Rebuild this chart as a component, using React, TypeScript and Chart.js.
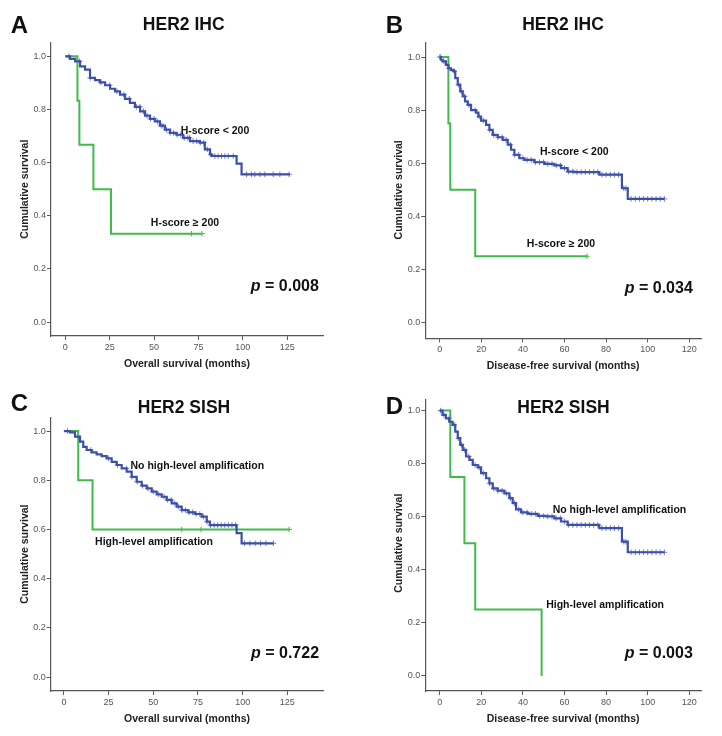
import React, { useEffect, useRef } from "react";
import { Chart, registerables } from "chart.js";
Chart.register(...registerables);

const FONT = '"Liberation Sans", Arial, Helvetica, sans-serif';
const BLUE = "#3e4fa8";
const BLUE_MARK = "#6b7fcf";
const GREEN = "#40bb4a";
const AXIS = "#555555";

// ---- tick labels ----
const osTicks = [0, 25, 50, 75, 100, 125];
const dfsTicks = [0, 20, 40, 60, 80, 100, 120];
const survTicks = [0, 0.2, 0.4, 0.6, 0.8, 1.0];

// ---- Panel A: HER2 IHC, overall survival ----
const aLowT = [0, 2.6, 5.5, 8.3, 11.1, 13.9, 16.7, 19.5, 22.4, 25.2, 28, 30.8, 33.6, 36.4, 39.2, 42.1, 44.9, 47.7, 50.5, 53.3, 56.1, 59, 62.7, 66.4, 70.2, 75.8, 78.6, 81.5, 82.4, 96.5, 99.3, 126.5];
const aLowS = [1, 0.99, 0.981, 0.962, 0.95, 0.919, 0.91, 0.902, 0.891, 0.878, 0.868, 0.856, 0.84, 0.825, 0.81, 0.793, 0.777, 0.765, 0.755, 0.739, 0.724, 0.712, 0.705, 0.693, 0.681, 0.675, 0.65, 0.631, 0.625, 0.596, 0.556, 0.556];
const aLowCensor = [2, 8, 14, 20, 25, 29, 33, 36, 40, 42, 44, 46, 48, 50, 52, 54, 55, 57, 59, 61, 63, 65, 67, 69, 70, 72, 74, 76, 78, 80, 82, 84.3, 86.1, 88, 89.9, 91.8, 94.6, 102.1, 104.9, 106.8, 109.6, 112.4, 117.1, 120.9, 126.1];
const aHighT = [0, 6.8, 7.9, 15.8, 25.7, 77];
const aHighS = [1, 0.833, 0.667, 0.5, 0.333, 0.333];
const aHighCensor = [71, 77];

// ---- Panel B: HER2 IHC, disease-free survival ----
const bLowT = [0, 0.6, 1.4, 3, 4.2, 5.4, 6.7, 7.5, 8.7, 9.9, 11.1, 12.2, 13.5, 15.1, 17.5, 18.6, 19.9, 22.3, 23.9, 25.5, 27.9, 30.3, 32.7, 34.3, 35.9, 38.3, 40.7, 45.5, 50.3, 55.1, 58.3, 61.5, 64.7, 76.7, 87.6, 90.4, 108];
const bLowS = [1, 0.99, 0.984, 0.971, 0.958, 0.952, 0.946, 0.921, 0.896, 0.871, 0.852, 0.833, 0.82, 0.8, 0.791, 0.776, 0.761, 0.745, 0.726, 0.707, 0.698, 0.688, 0.67, 0.651, 0.632, 0.619, 0.613, 0.604, 0.598, 0.592, 0.582, 0.569, 0.567, 0.557, 0.506, 0.466, 0.466];
const bLowCensor = [0.5, 2, 4.5, 7, 9, 10.5, 12, 14, 17, 19, 21, 24, 26, 28, 30, 32, 34, 36, 38, 40, 42, 44, 46, 48, 50, 52, 54, 56, 58, 60, 62, 64, 66, 68, 70, 72, 74, 76, 78, 80, 82, 84, 86, 88.5, 89.5, 92, 94, 96, 98, 100, 102, 104, 106, 108];
const bHighT = [0, 4.2, 5.1, 17.1, 70.8];
const bHighS = [1, 0.75, 0.5, 0.25, 0.25];
const bHighCensor = [0, 70.8];

// ---- Panel C: HER2 SISH, overall survival ----
const cLowT = [0, 3.4, 6.2, 9, 10.8, 12.7, 15.5, 18.3, 21.1, 23.9, 26.7, 29.5, 32.3, 35.1, 37.9, 40.7, 43.5, 46.3, 49.1, 51.9, 54.7, 57.5, 60.3, 63.1, 65.9, 69.6, 73.3, 77, 79.9, 81.7, 96.6, 99.4, 117.2];
const cLowS = [1, 0.995, 0.977, 0.957, 0.936, 0.923, 0.913, 0.905, 0.898, 0.889, 0.875, 0.862, 0.848, 0.835, 0.814, 0.794, 0.778, 0.767, 0.754, 0.743, 0.733, 0.72, 0.706, 0.693, 0.679, 0.67, 0.663, 0.652, 0.632, 0.618, 0.585, 0.544, 0.544];
const cLowCensor = [2, 8, 15, 25, 30, 35, 38, 41, 44, 47, 50, 53, 56, 58, 60, 62, 64, 66, 68, 70, 72, 74, 76, 78, 80, 82, 84, 86, 88, 90, 92, 94, 96, 101, 104, 107, 110, 113, 117.2];
const cHighT = [0, 8, 16, 126];
const cHighS = [1, 0.8, 0.6, 0.6];
const cHighCensor = [65.9, 76.7, 126];

// ---- Panel D: HER2 SISH, disease-free survival ----
const dLowT = [0, 1.4, 3, 4.6, 6.2, 7.5, 8.7, 9.9, 11.1, 12.7, 14.3, 15.9, 18.3, 19.9, 22.3, 23.9, 25.5, 27.9, 31.1, 33.5, 35.1, 36.7, 39.1, 42.3, 47.1, 51.1, 55.1, 58.3, 61.5, 76.7, 87.6, 90.4, 108];
const dLowS = [1, 0.984, 0.971, 0.958, 0.946, 0.921, 0.896, 0.871, 0.852, 0.827, 0.814, 0.795, 0.786, 0.764, 0.745, 0.726, 0.707, 0.698, 0.688, 0.67, 0.651, 0.628, 0.616, 0.611, 0.603, 0.601, 0.594, 0.582, 0.569, 0.557, 0.506, 0.466, 0.466];
const dLowCensor = [0.5, 2, 4.5, 7, 9, 10.5, 12, 14, 17, 19, 21, 24, 26, 28, 30, 32, 34, 36, 38, 40, 42, 44, 46, 48, 50, 52, 54, 56, 58, 60, 62, 64, 66, 68, 70, 72, 74, 76, 78, 80, 82, 84, 86, 88.5, 89.5, 92, 94, 96, 98, 100, 102, 104, 106, 108];
const dHighT = [0, 5.1, 11.9, 17.1, 49];
const dHighS = [1, 0.75, 0.5, 0.25, 0];
const dHighCensor: number[] = [];

// ---- texts ----
const panelLetters = ["A", "B", "C", "D"];
const panelTitles = ["HER2 IHC", "HER2 IHC", "HER2 SISH", "HER2 SISH"];
const xTitles = ["Overall survival (months)", "Disease-free survival (months)", "Overall survival (months)", "Disease-free survival (months)"];
const yTitle = "Cumulative survival";
const pValues = ["0.008", "0.034", "0.722", "0.003"];
const lowLabels = ["H-score < 200", "H-score < 200", "No high-level amplification", "No high-level amplification"];
const highLabels = ["H-score \u2265 200", "H-score \u2265 200", "High-level amplification", "High-level amplification"];

type Pt = { x: number; y: number };
const curve = (t: number[], s: number[]): Pt[] => t.map((x, i) => ({ x, y: s[i] }));
const censor = (t: number[], s: number[], c: number[]): Pt[] =>
  c.map((ct) => {
    let y = s[0];
    for (let i = 0; i < t.length; i++) if (t[i] <= ct) y = s[i];
    return { x: ct, y };
  });

type Cfg = {
  idx: number;
  lowT: number[]; lowS: number[]; lowC: number[];
  highT: number[]; highS: number[]; highC: number[];
  xTicks: number[];
  box: { left: number; top: number; width: number; height: number };
  pad: { left: number; right: number; top: number; bottom: number };
  xMin: number; xMax: number; yMin: number; yMax: number;
  letterPos: [number, number];
  titlePos: [number, number];
  lowPos: [number, number];
  highPos: [number, number];
  pPos: [number, number];
};

const panels: Cfg[] = [
  {
    idx: 0, lowT: aLowT, lowS: aLowS, lowC: aLowCensor, highT: aHighT, highS: aHighS, highC: aHighCensor,
    xTicks: osTicks,
    box: { left: 0, top: 0, width: 361, height: 372 },
    pad: { left: 21, right: 38, top: 43, bottom: 16 },
    xMin: -8.1, xMax: 145.2, yMin: -0.052, yMax: 1.05,
    letterPos: [19.5, 26.5], titlePos: [183.7, 25.5],
    lowPos: [84.3, 0.72], highPos: [67.4, 0.374], pPos: [123.7, 0.133],
  },
  {
    idx: 1, lowT: bLowT, lowS: bLowS, lowC: bLowCensor, highT: bHighT, highS: bHighS, highC: bHighCensor,
    xTicks: dfsTicks,
    box: { left: 361, top: 0, width: 361, height: 372 },
    pad: { left: 34.3, right: 21, top: 43, bottom: 13.7 },
    xMin: -6.9, xMax: 125.6, yMin: -0.059, yMax: 1.053,
    letterPos: [33.5, 26.5], titlePos: [202, 25],
    lowPos: [64.7, 0.642], highPos: [58.3, 0.296], pPos: [105.3, 0.129],
  },
  {
    idx: 2, lowT: cLowT, lowS: cLowS, lowC: cLowCensor, highT: cHighT, highS: cHighS, highC: cHighCensor,
    xTicks: osTicks,
    box: { left: 0, top: 372, width: 361, height: 364 },
    pad: { left: 20.7, right: 37.7, top: 46, bottom: 25 },
    xMin: -7.4, xMax: 145.1, yMin: -0.056, yMax: 1.053,
    letterPos: [19.5, 32], titlePos: [184, 36],
    lowPos: [74.6, 0.859], highPos: [50.4, 0.548], pPos: [123.7, 0.095],
  },
  {
    idx: 3, lowT: dLowT, lowS: dLowS, lowC: dLowCensor, highT: dHighT, highS: dHighS, highC: dHighCensor,
    xTicks: dfsTicks,
    box: { left: 361, top: 372, width: 361, height: 364 },
    pad: { left: 34.3, right: 21, top: 28, bottom: 25 },
    xMin: -6.9, xMax: 125.6, yMin: -0.057, yMax: 1.04,
    letterPos: [33.5, 35], titlePos: [202.5, 36],
    lowPos: [86.4, 0.626], highPos: [79.5, 0.268], pPos: [105.3, 0.083],
  },
];

function Panel({ cfg }: { cfg: Cfg }) {
  const ref = useRef<HTMLCanvasElement | null>(null);
  useEffect(() => {
    if (!ref.current) return;
    const i = cfg.idx;
    const textPlugin = {
      id: "kmText",
      afterDraw(chart: any) {
        const ctx = chart.ctx as CanvasRenderingContext2D;
        const xs = chart.scales.x;
        const ys = chart.scales.y;
        const area = chart.chartArea;
        ctx.save();
        ctx.fillStyle = "#111";
        ctx.textBaseline = "middle";
        ctx.textAlign = "center";
        // panel letter
        ctx.font = `bold 24px ${FONT}`;
        ctx.fillText(panelLetters[i], cfg.letterPos[0], cfg.letterPos[1]);
        // title
        ctx.font = `bold 17.5px ${FONT}`;
        ctx.fillText(panelTitles[i], cfg.titlePos[0], cfg.titlePos[1]);
        // axis titles
        ctx.fillStyle = "#222";
        ctx.font = `bold 10.5px ${FONT}`;
        ctx.fillText(xTitles[i], (area.left + area.right) / 2, area.bottom + 28);
        ctx.save();
        ctx.translate(area.left - 26, (ys.getPixelForValue(0) + ys.getPixelForValue(1)) / 2);
        ctx.rotate(-Math.PI / 2);
        ctx.fillText(yTitle, 0, 0);
        ctx.restore();
        // curve labels
        ctx.fillStyle = "#111";
        ctx.font = `bold 10.5px ${FONT}`;
        ctx.fillText(lowLabels[i], xs.getPixelForValue(cfg.lowPos[0]), ys.getPixelForValue(cfg.lowPos[1]));
        ctx.fillText(highLabels[i], xs.getPixelForValue(cfg.highPos[0]), ys.getPixelForValue(cfg.highPos[1]));
        // p value
        const pcx = xs.getPixelForValue(cfg.pPos[0]);
        const pcy = ys.getPixelForValue(cfg.pPos[1]);
        ctx.font = `italic bold 16px ${FONT}`;
        const w1 = ctx.measureText("p").width;
        ctx.font = `bold 16px ${FONT}`;
        const rest = " = " + pValues[i];
        const w2 = ctx.measureText(rest).width;
        const sx = pcx - (w1 + w2) / 2;
        ctx.textAlign = "left";
        ctx.font = `italic bold 16px ${FONT}`;
        ctx.fillText("p", sx, pcy);
        ctx.font = `bold 16px ${FONT}`;
        ctx.fillText(rest, sx + w1, pcy);
        ctx.restore();
      },
    };
    const chart = new Chart(ref.current, {
      type: "scatter",
      data: {
        datasets: [
          {
            data: curve(cfg.lowT, cfg.lowS),
            showLine: true,
            stepped: "before",
            borderColor: BLUE,
            borderWidth: 2.2,
            pointRadius: 0,
          },
          {
            data: censor(cfg.lowT, cfg.lowS, cfg.lowC),
            showLine: false,
            pointStyle: "cross",
            pointRadius: 2.8,
            borderColor: BLUE_MARK,
            borderWidth: 1,
          },
          {
            data: curve(cfg.highT, cfg.highS),
            showLine: true,
            stepped: "before",
            borderColor: GREEN,
            borderWidth: 2,
            pointRadius: 0,
          },
          {
            data: censor(cfg.highT, cfg.highS, cfg.highC),
            showLine: false,
            pointStyle: "cross",
            pointRadius: 2.8,
            borderColor: GREEN,
            borderWidth: 1,
          },
        ] as any,
      },
      options: {
        responsive: false,
        animation: false,
        layout: { padding: cfg.pad },
        plugins: { legend: { display: false }, tooltip: { enabled: false }, title: { display: false } },
        scales: {
          x: {
            type: "linear",
            min: cfg.xMin,
            max: cfg.xMax,
            afterBuildTicks: (s: any) => {
              s.ticks = cfg.xTicks.map((v) => ({ value: v }));
            },
            afterFit: (s: any) => {
              s.height = 20;
            },
            ticks: {
              autoSkip: false,
              maxRotation: 0,
              padding: 2,
              color: "#555",
              font: { family: FONT, size: 9 },
              callback: (v: any) => String(v),
            },
            grid: { display: true, drawOnChartArea: false, drawTicks: true, tickLength: 4, color: AXIS, lineWidth: 1 },
            border: { display: true, color: AXIS, width: 1.2 },
          },
          y: {
            type: "linear",
            min: cfg.yMin,
            max: cfg.yMax,
            afterBuildTicks: (s: any) => {
              s.ticks = survTicks.map((v) => ({ value: v }));
            },
            afterFit: (s: any) => {
              s.width = 30;
            },
            ticks: {
              autoSkip: false,
              padding: 1,
              color: "#555",
              font: { family: FONT, size: 9 },
              callback: (v: any) => Number(v).toFixed(1),
            },
            grid: { display: true, drawOnChartArea: false, drawTicks: true, tickLength: 4, color: AXIS, lineWidth: 1 },
            border: { display: true, color: AXIS, width: 1.2 },
          },
        },
      } as any,
      plugins: [textPlugin],
    });
    return () => chart.destroy();
  }, [cfg]);
  return (
    <canvas
      ref={ref}
      width={cfg.box.width}
      height={cfg.box.height}
      style={{
        position: "absolute",
        left: cfg.box.left,
        top: cfg.box.top,
        width: cfg.box.width,
        height: cfg.box.height,
      }}
    />
  );
}

export default function App() {
  return (
    <div
      style={{
        position: "absolute",
        left: 0,
        top: 0,
        width: 722,
        height: 736,
        background: "#ffffff",
        overflow: "hidden",
      }}
    >
      {panels.map((p) => (
        <Panel key={p.idx} cfg={p} />
      ))}
    </div>
  );
}
